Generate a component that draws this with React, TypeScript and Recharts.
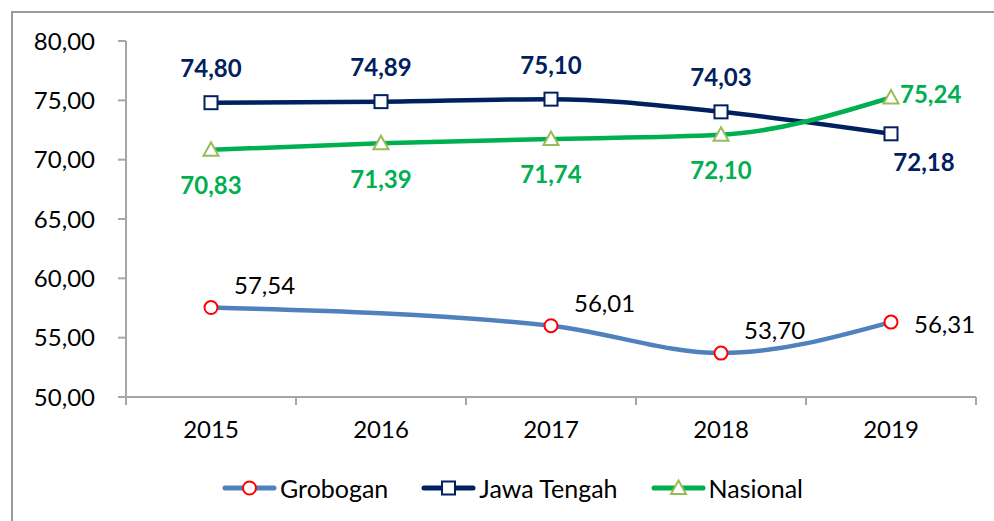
import { LineChart, Line, XAxis, YAxis, LabelList } from "recharts";

const years = ["2015", "2016", "2017", "2018", "2019"];
const grobogan: (number | null)[] = [57.54, null, 56.01, 53.7, 56.31];
const jawaTengah = [74.8, 74.89, 75.1, 74.03, 72.18];
const nasional = [70.83, 71.39, 71.74, 72.1, 75.24];
const yTicks = [50, 55, 60, 65, 70, 75, 80];

const FONT = "Lato, 'Open Sans', sans-serif";
const AXIS = "#a6a6a6";
const C_GRO = "#4f81bd";
const C_JAT = "#002060";
const C_NAS = "#00b050";

const data = years.map((y, i) => ({
  idx: i,
  year: y,
  grobogan: grobogan[i],
  jawaTengah: jawaTengah[i],
  nasional: nasional[i],
}));

// boundary ticks between categories plus the category centres
const xTicks = [-0.5, 0, 0.5, 1, 1.5, 2, 2.5, 3, 3.5, 4, 4.5];

const fmt = (v: number) => v.toFixed(2).replace(".", ",");

function XTick(props: any) {
  const { x, y, payload } = props;
  const v = payload.value as number;
  if (Number.isInteger(v)) {
    return (
      <text x={x} y={y + 33} textAnchor="middle" dy="0.35em" fontFamily={FONT} fontSize={24} fill="#000">
        {years[v]}
      </text>
    );
  }
  return <line x1={x} x2={x} y1={y} y2={y + 8} stroke={AXIS} strokeWidth={2} />;
}

function CircleDot(props: any) {
  const { cx, cy, value } = props;
  if (value == null || cx == null) return null;
  return <circle cx={cx} cy={cy} r={6.5} fill="#fff" stroke="#ff0000" strokeWidth={2} />;
}

function SquareDot(props: any) {
  const { cx, cy } = props;
  if (cx == null) return null;
  return <rect x={cx - 6.5} y={cy - 6.5} width={13} height={13} fill="#fff" stroke={C_JAT} strokeWidth={2} />;
}

function TriangleDot(props: any) {
  const { cx, cy } = props;
  if (cx == null) return null;
  return (
    <path
      d={`M${cx},${cy - 7.5} L${cx + 7.5},${cy + 6} L${cx - 7.5},${cy + 6} Z`}
      fill="#fff"
      stroke="#9bbb59"
      strokeWidth={2}
    />
  );
}

function GroLabel(props: any) {
  const { x, y, value, index } = props;
  if (value == null) return null;
  const last = index === years.length - 1;
  return (
    <text x={x + 23} y={y + (last ? 2 : -22)} dy="0.35em" fontFamily={FONT} fontSize={24} fill="#000">
      {fmt(value)}
    </text>
  );
}

function JatLabel(props: any) {
  const { x, y, value, index } = props;
  const last = index === years.length - 1;
  return (
    <text
      x={last ? x + 33 : x}
      y={last ? y + 29 : y - 34}
      dy="0.35em"
      textAnchor="middle"
      fontFamily={FONT}
      fontWeight={700}
      fontSize={24}
      fill={C_JAT}
    >
      {fmt(value)}
    </text>
  );
}

function NasLabel(props: any) {
  const { x, y, value, index } = props;
  const last = index === years.length - 1;
  return (
    <text
      x={last ? x + 9 : x}
      y={last ? y - 3 : y + 36}
      dy="0.35em"
      textAnchor={last ? "start" : "middle"}
      fontFamily={FONT}
      fontWeight={700}
      fontSize={24}
      fill={C_NAS}
    >
      {fmt(value)}
    </text>
  );
}

const legendItems = [
  { name: "Grobogan", color: C_GRO, marker: "circle" },
  { name: "Jawa Tengah", color: C_JAT, marker: "square" },
  { name: "Nasional", color: C_NAS, marker: "triangle" },
];

function LegendIcon({ color, marker }: { color: string; marker: string }) {
  return (
    <svg width={55} height={20} style={{ display: "block" }}>
      <line x1={3} x2={52} y1={10} y2={10} stroke={color} strokeWidth={5} strokeLinecap="round" />
      {marker === "circle" && <circle cx={27.5} cy={10} r={6.5} fill="#fff" stroke="#ff0000" strokeWidth={2} />}
      {marker === "square" && <rect x={21} y={3.5} width={13} height={13} fill="#fff" stroke={C_JAT} strokeWidth={2} />}
      {marker === "triangle" && (
        <path d="M27.5,2.5 L35,16 L20,16 Z" fill="#fff" stroke="#9bbb59" strokeWidth={2} />
      )}
    </svg>
  );
}

export default function App() {
  return (
    <div style={{ position: "absolute", left: 0, top: 0, width: 994, height: 521, background: "#fff", overflow: "hidden" }}>
      <div
        style={{
          position: "absolute",
          left: 11,
          top: 11,
          width: 1100,
          height: 600,
          borderLeft: "2px solid #9a9a9a",
          borderTop: "2px solid #9a9a9a",
        }}
      />
      <div style={{ position: "absolute", left: 0, top: 0 }}>
        <LineChart width={994} height={521} data={data} margin={{ top: 41, right: 18, bottom: 94, left: 0 }}>
          <XAxis
            type="number"
            dataKey="idx"
            domain={[-0.5, 4.5]}
            ticks={xTicks}
            interval={0}
            tick={<XTick />}
            tickLine={false}
            tickSize={0}
            tickMargin={0}
            height={30}
            axisLine={{ stroke: AXIS, strokeWidth: 2 }}
          />
          <YAxis
            type="number"
            domain={[50, 80]}
            ticks={yTicks}
            interval={0}
            width={126}
            tickSize={8}
            tickMargin={23}
            tickFormatter={fmt}
            tick={{ fontFamily: FONT, fontSize: 24, fill: "#000" }}
            tickLine={{ stroke: AXIS, strokeWidth: 2 }}
            axisLine={{ stroke: AXIS, strokeWidth: 2 }}
          />
          <Line
            type="monotone"
            dataKey="grobogan"
            stroke={C_GRO}
            strokeWidth={4.5}
            connectNulls
            dot={<CircleDot />}
            activeDot={false}
            isAnimationActive={false}
          >
            <LabelList dataKey="grobogan" content={<GroLabel />} />
          </Line>
          <Line
            type="monotone"
            dataKey="jawaTengah"
            stroke={C_JAT}
            strokeWidth={4.5}
            dot={<SquareDot />}
            activeDot={false}
            isAnimationActive={false}
          >
            <LabelList dataKey="jawaTengah" content={<JatLabel />} />
          </Line>
          <Line
            type="monotone"
            dataKey="nasional"
            stroke={C_NAS}
            strokeWidth={4.5}
            dot={<TriangleDot />}
            activeDot={false}
            isAnimationActive={false}
          >
            <LabelList dataKey="nasional" content={<NasLabel />} />
          </Line>
        </LineChart>
      </div>
      <div
        style={{
          position: "absolute",
          left: 222,
          top: 476,
          display: "flex",
          alignItems: "center",
          fontFamily: FONT,
          fontSize: 25,
          color: "#000",
        }}
      >
        {legendItems.map((it, i) => (
          <div key={it.name} style={{ display: "flex", alignItems: "center", marginRight: i < 2 ? 33 : 0 }}>
            <LegendIcon color={it.color} marker={it.marker} />
            <span style={{ marginLeft: 3, lineHeight: "24px" }}>{it.name}</span>
          </div>
        ))}
      </div>
    </div>
  );
}
